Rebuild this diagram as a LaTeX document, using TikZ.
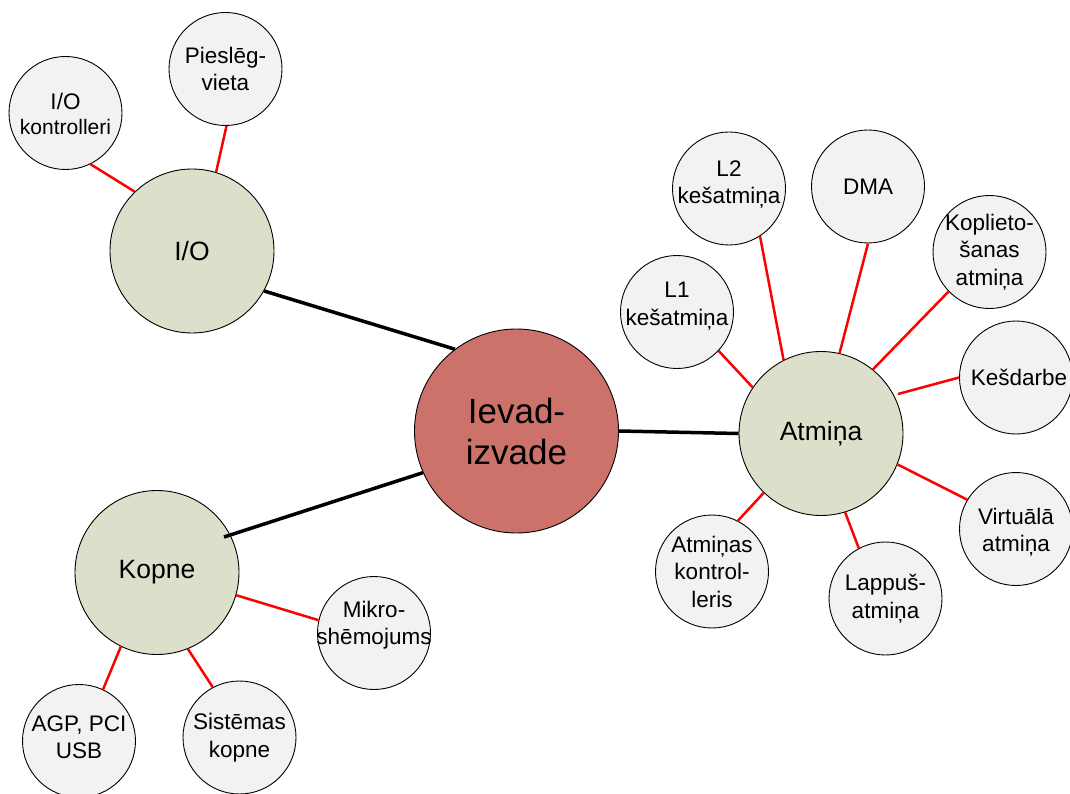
\documentclass[tikz,border=0pt]{standalone}
\usepackage{fontspec}
\setmainfont{Liberation Sans}
\usetikzlibrary{calc}
\definecolor{rootfill}{HTML}{CC726A}
\definecolor{hubfill}{HTML}{DCE0CA}
\definecolor{leaffill}{HTML}{F2F2F2}
\begin{document}
\begin{tikzpicture}[x=1pt,y=-1pt,
  ball/.style={circle,draw=black,line width=0.9pt,inner sep=0pt},
  root/.style={ball,fill=rootfill,minimum size=204pt},
  hub/.style={ball,fill=hubfill,minimum size=164pt},
  leaf/.style={ball,fill=leaffill,minimum size=113pt},
  rtxt/.style={align=center,inner sep=0pt,font=\fontsize{35}{41}\selectfont},
  htxt/.style={align=center,inner sep=0pt,font=\fontsize{26.5}{30}\selectfont},
  ltxt/.style={align=center,inner sep=0pt,font=\fontsize{22.5}{27.5}\selectfont},
  mainlink/.style={line width=3.5pt,black},
  sublink/.style={line width=2.5pt,red},
]
\useasboundingbox (0,0) rectangle (1070,794);

% circles
\node[root] (root) at (516.5,431) {};
\node[hub] (io) at (192,251) {};
\node[hub] (kopne) at (157,572.5) {};
\node[hub] (atm) at (821,433.5) {};
\node[leaf] (ioc) at (65.5,113) {};
\node[leaf] (port) at (225.5,69) {};
\node[leaf] (l2) at (729,188.5) {};
\node[leaf] (dma) at (868,186.5) {};
\node[leaf] (shared) at (989.5,252) {};
\node[leaf] (l1) at (677,312) {};
\node[leaf] (kes) at (1016,377.5) {};
\node[leaf] (virt) at (1016,529) {};
\node[leaf] (mctl) at (712,571.5) {};
\node[leaf] (page) at (885.5,598.5) {};
\node[leaf] (chip) at (374,633) {};
\node[leaf] (agp) at (79,741) {};
\node[leaf] (sysbus) at (239.5,737.5) {};

% connectors
\draw[mainlink] (io.-29) -- (root.127);
\draw[mainlink] ($(kopne.center)+(67,-35.5)$) -- (root.204);
\draw[mainlink] (root.-0.5) -- (atm.180.5);

\draw[sublink] (ioc.-64) -- (io.134);
\draw[sublink] (port.-89.5) -- (io.73);
\draw[sublink] (l2.-57) -- (atm.117);
\draw[sublink] (dma.-90) -- (atm.77);
\draw[sublink] (shared.224) -- (atm.51);
\draw[sublink] (l1.-43.5) -- (atm.146);
\draw[sublink] (kes.180) -- ($(atm.center)+(77,-39.5)$);
\draw[sublink] (virt.149) -- (atm.-22);
\draw[sublink] (mctl.63) -- (atm.226.7);
\draw[sublink] (page.118) -- (atm.-73.5);
\draw[sublink] (chip.167.6) -- (kopne.-16.6);
\draw[sublink] (agp.65) -- (kopne.244);
\draw[sublink] (sysbus.118.6) -- (kopne.-68.3);

% labels
\node[rtxt] (t-root) at (root.center) {Ievad-\\izvade};
\node[htxt] (t-io) at (io.center) {I/O};
\node[htxt] (t-kopne) at (kopne.center) {Kopne};
\node[htxt] (t-atm) at (atm.center) {Atmiņa};
\node[ltxt] (t-ioc) at ([yshift=-1pt]ioc.center) {I/O\\[-2pt]{\fontsize{21}{25}\selectfont kontrolleri}};
\node[ltxt] (t-port) at (port.center) {Pieslēg-\\vieta};
\node[ltxt] (t-l2) at ([yshift=4pt]l2.center) {L2\\kešatmiņa};
\node[ltxt] (t-dma) at (dma.center) {DMA};
\node[ltxt] (t-shared) at (shared.center) {Koplieto-\\šanas\\atmiņa};
\node[ltxt] (t-l1) at ([yshift=6pt]l1.center) {L1\\kešatmiņa};
\node[ltxt] (t-kes) at ([xshift=3pt]kes.center) {Kešdarbe};
\node[ltxt] (t-virt) at ([yshift=-3pt]virt.center) {Virtuālā\\atmiņa};
\node[ltxt] (t-mctl) at (mctl.center) {Atmiņas\\kontrol-\\leris};
\node[ltxt] (t-page) at (page.center) {Lappuš-\\atmiņa};
\node[ltxt] (t-chip) at ([yshift=8pt]chip.center) {Mikro-\\shēmojums};
\node[ltxt] (t-agp) at ([yshift=4pt]agp.center) {AGP, PCI\\USB};
\node[ltxt] (t-sysbus) at (sysbus.center) {Sistēmas\\kopne};
\end{tikzpicture}
\end{document}
